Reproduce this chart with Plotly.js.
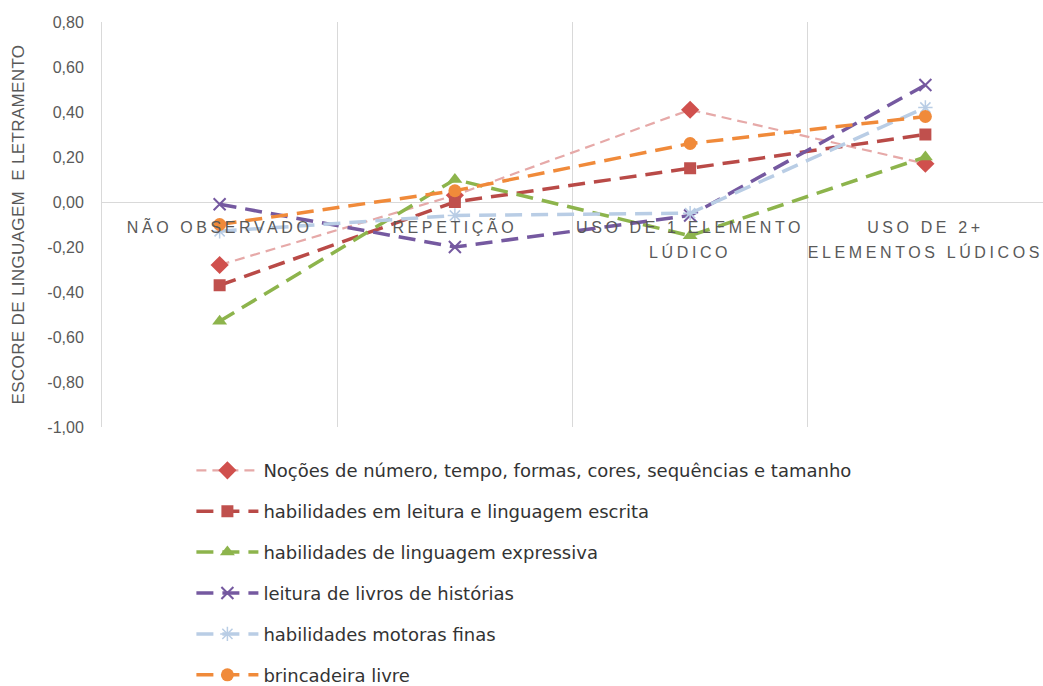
<!DOCTYPE html>
<html>
<head>
<meta charset="utf-8">
<script src="https://cdn.plot.ly/plotly-3.0.1.min.js"></script>
<style>
  html, body { margin: 0; padding: 0; background: #fff; }
  #chart { width: 1043px; height: 686px; }
</style>
</head>
<body>
<div id="chart"></div>
<script>
// Categories on the x axis
var categories = [
  'NÃO OBSERVADO',
  'REPETIÇÃO',
  'USO DE 1 ELEMENTO<br>LÚDICO',
  'USO DE 2+<br>ELEMENTOS LÚDICOS'
];

// Series names
var seriesNames = [
  'Noções de número, tempo, formas, cores, sequências e tamanho',
  'habilidades em leitura e linguagem escrita',
  'habilidades de linguagem expressiva',
  'leitura de livros de histórias',
  'habilidades motoras finas',
  'brincadeira livre'
];

// Scores per series
var nocoes      = [-0.28, 0.03, 0.41, 0.17];
var leituraEsc  = [-0.37, 0.00, 0.15, 0.30];
var expressiva  = [-0.53, 0.10, -0.15, 0.20];
var livros      = [-0.01, -0.20, -0.06, 0.52];
var motoras     = [-0.13, -0.06, -0.05, 0.42];
var brincadeira = [-0.10, 0.05, 0.26, 0.38];

// Y tick values and their labels (comma decimals, plain hyphen minus)
var yTicks = [0.8, 0.6, 0.4, 0.2, 0, -0.2, -0.4, -0.6, -0.8, -1.0];
var yTickLabels = ['0,80', '0,60', '0,40', '0,20', '0,00', '-0,20', '-0,40', '-0,60', '-0,80', '-1,00'];

var seriesValues = [nocoes, leituraEsc, expressiva, livros, motoras, brincadeira];

var styles = [
  {line: {color: '#E6A9A8', width: 2.2, dash: '10px,6px'},
   marker: {symbol: 'diamond', size: 14, color: '#D0504D'}},
  {line: {color: '#B94A47', width: 3.5, dash: '17px,9px'},
   marker: {symbol: 'square', size: 12, color: '#C0504D'}},
  {line: {color: '#8DB44C', width: 3.5, dash: '17px,9px'},
   marker: {symbol: 'triangle-up', size: 13, color: '#8DB44C'}},
  {line: {color: '#7559A0', width: 3.5, dash: '17px,9px'},
   marker: {symbol: 'x-thin-open', size: 12, color: '#7559A0', line: {width: 2, color: '#7559A0'}}},
  {line: {color: '#B9CDE5', width: 3.5, dash: '17px,9px'},
   marker: {symbol: 'asterisk-open', size: 12, color: '#B9CDE5', line: {width: 1.5, color: '#B9CDE5'}}},
  {line: {color: '#F08A3A', width: 3.5, dash: '17px,9px'},
   marker: {symbol: 'circle', size: 13, color: '#F08A3A'}}
];

var traces = seriesNames.map(function (name, i) {
  return {
    type: 'scatter',
    mode: 'lines+markers',
    name: name,
    legendgroup: 'g' + i,
    x: categories,
    y: seriesValues[i],
    line: styles[i].line,
    marker: styles[i].marker,
    hoverinfo: 'x+y+name'
  };
});

var textColor = '#595959';
var baseFont = 'Liberation Sans, Arial, sans-serif';

var layout = {
  width: 1043,
  height: 686,
  margin: {l: 102, r: 0, t: 22, b: 259, autoexpand: false},
  paper_bgcolor: '#ffffff',
  plot_bgcolor: '#ffffff',
  font: {family: baseFont, color: textColor, size: 15},
  showlegend: true,
  legend: {
    orientation: 'v',
    x: 0.095,
    xanchor: 'left',
    y: -0.062,
    yanchor: 'top',
    traceorder: 'grouped',
    tracegroupgap: 14.5,
    itemwidth: 62,
    font: {family: 'DejaVu Sans, sans-serif', size: 18, color: '#333333'},
    bgcolor: 'rgba(0,0,0,0)'
  },
  xaxis: {
    type: 'category',
    tickson: 'boundaries',
    showgrid: true,
    gridcolor: '#D9D9D9',
    gridwidth: 1,
    showline: false,
    zeroline: false,
    ticks: '',
    anchor: 'free',
    position: 1 / 1.8,
    ticklabelstandoff: 14,
    tickfont: {family: baseFont, size: 16, color: textColor},
    range: [-0.5, 3.5],
    fixedrange: true
  },
  yaxis: {
    range: [-1.0, 0.8],
    tickvals: yTicks,
    ticktext: yTickLabels,
    showgrid: false,
    zeroline: true,
    zerolinecolor: '#D9D9D9',
    zerolinewidth: 1,
    showline: true,
    linecolor: '#D9D9D9',
    linewidth: 1,
    ticks: '',
    ticklabelstandoff: 14,
    tickfont: {family: baseFont, size: 16, color: textColor},
    title: {
      text: 'ESCORE DE LINGUAGEM \u00A0E LETRAMENTO',
      font: {family: baseFont, size: 17, color: textColor},
      standoff: 18
    },
    fixedrange: true
  }
};

Plotly.newPlot('chart', traces, layout, {displayModeBar: false, staticPlot: true}).then(function () {
  // widen the spacing of the category labels and open up their line height
  document.querySelectorAll('.xtick text').forEach(function (t) {
    t.setAttribute('letter-spacing', '3.6px');
    t.querySelectorAll('tspan.line').forEach(function (ts) {
      var dy = ts.getAttribute('dy');
      if (dy && parseFloat(dy) > 0) ts.setAttribute('dy', '1.55em');
    });
  });
  document.querySelectorAll('.g-ytitle text').forEach(function (t) {
    t.setAttribute('letter-spacing', '0.35px');
  });
});
</script>
</body>
</html>
